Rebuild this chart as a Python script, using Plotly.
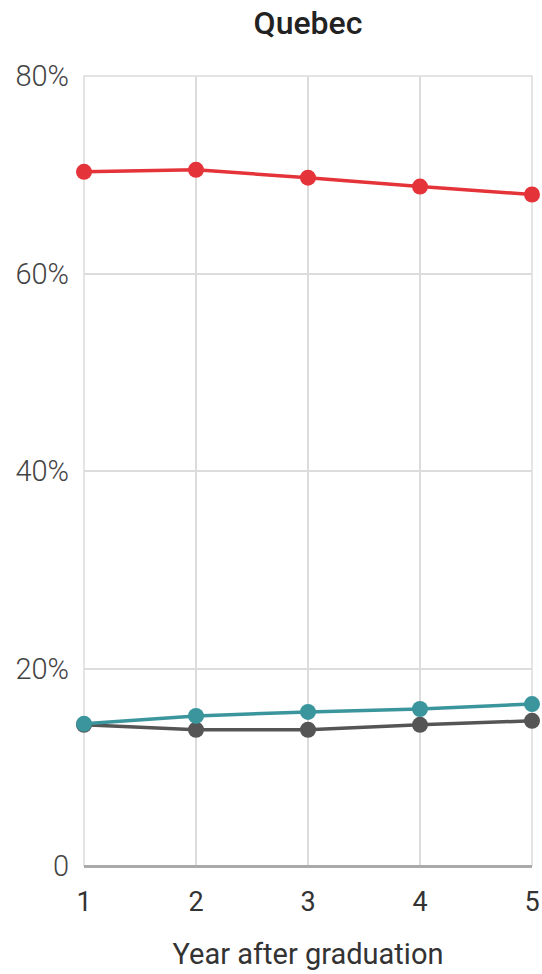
import plotly.graph_objects as go

# Share of graduates by year after graduation, Quebec
years = [1, 2, 3, 4, 5]
red_series = [70.3, 70.5, 69.7, 68.8, 68.0]
teal_series = [14.4, 15.2, 15.6, 15.9, 16.4]
dark_series = [14.3, 13.8, 13.8, 14.3, 14.7]

y_ticks = [0, 20, 40, 60, 80]
y_tick_labels = ["0", "20%", "40%", "60%", "80%"]

series = [
    (dark_series, "#555555"),
    (teal_series, "#3a959d"),
    (red_series, "#e5333a"),
]

fig = go.Figure()
for values, color in series:
    fig.add_trace(go.Scatter(
        x=years, y=values, mode="lines+markers",
        line=dict(color=color, width=3.5),
        marker=dict(color=color, size=16),
        cliponaxis=False, showlegend=False,
        hoverinfo="skip",
    ))

fig.update_layout(
    width=542, height=974,
    margin=dict(l=84, r=10, t=76, b=108, autoexpand=False),
    paper_bgcolor="white", plot_bgcolor="white",
    font=dict(family="Roboto", color="#333333"),
    title=dict(
        text="Quebec", x=308 / 542, xanchor="center",
        y=1 - 23 / 974, yref="container", yanchor="middle",
        font=dict(size=32, weight=500, color="#222222"),
    ),
    # light frame around the plotting area (edge grid lines)
    shapes=[dict(
        type="rect", xref="x domain", yref="y domain",
        x0=0, x1=1, y0=0, y1=1,
        line=dict(color="#dcdcdc", width=1.5), layer="below",
    )],
)

fig.update_xaxes(
    range=[1, 5], tickvals=years, ticktext=[str(v) for v in years],
    showgrid=True, gridcolor="#dcdcdc", gridwidth=1.5,
    zeroline=False, showline=False, automargin=False,
    tickfont=dict(size=27, color="#333333"),
    ticklabelstandoff=17,
    title=dict(text="Year after graduation", standoff=26,
               font=dict(size=29, color="#333333")),
    fixedrange=True,
)
fig.update_yaxes(
    range=[0, 80], tickvals=y_ticks, ticktext=y_tick_labels,
    showgrid=True, gridcolor="#dcdcdc", gridwidth=1.5,
    zeroline=True, zerolinecolor="#aaaaaa", zerolinewidth=3,
    showline=False, automargin=False,
    tickfont=dict(size=29, weight=300, color="#444444"),
    ticklabelstandoff=14,
    fixedrange=True,
)

fig.write_html("out.html")
